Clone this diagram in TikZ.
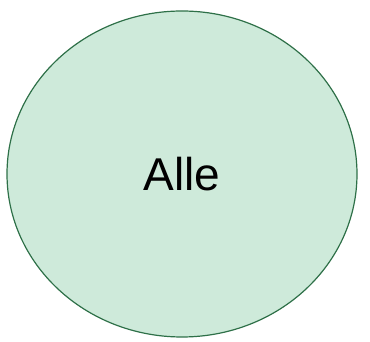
\documentclass[tikz,border=0pt]{standalone}
\usepackage{fontspec}
\setmainfont{Liberation Sans}
\usetikzlibrary{shapes.geometric}
\definecolor{efill}{RGB}{206,234,218}
\definecolor{estroke}{RGB}{46,112,72}
\tikzset{bubble/.style={ellipse, draw=estroke, fill=efill, line width=1.2pt, minimum width=350pt, minimum height=326pt, inner sep=0pt, font=\fontsize{46}{50}\selectfont}}
\begin{document}
\begin{tikzpicture}[x=1pt,y=1pt]
\useasboundingbox (0,0) rectangle (370,342);
\node[bubble] (alle) at (182,168) {Alle};
\end{tikzpicture}
\end{document}
